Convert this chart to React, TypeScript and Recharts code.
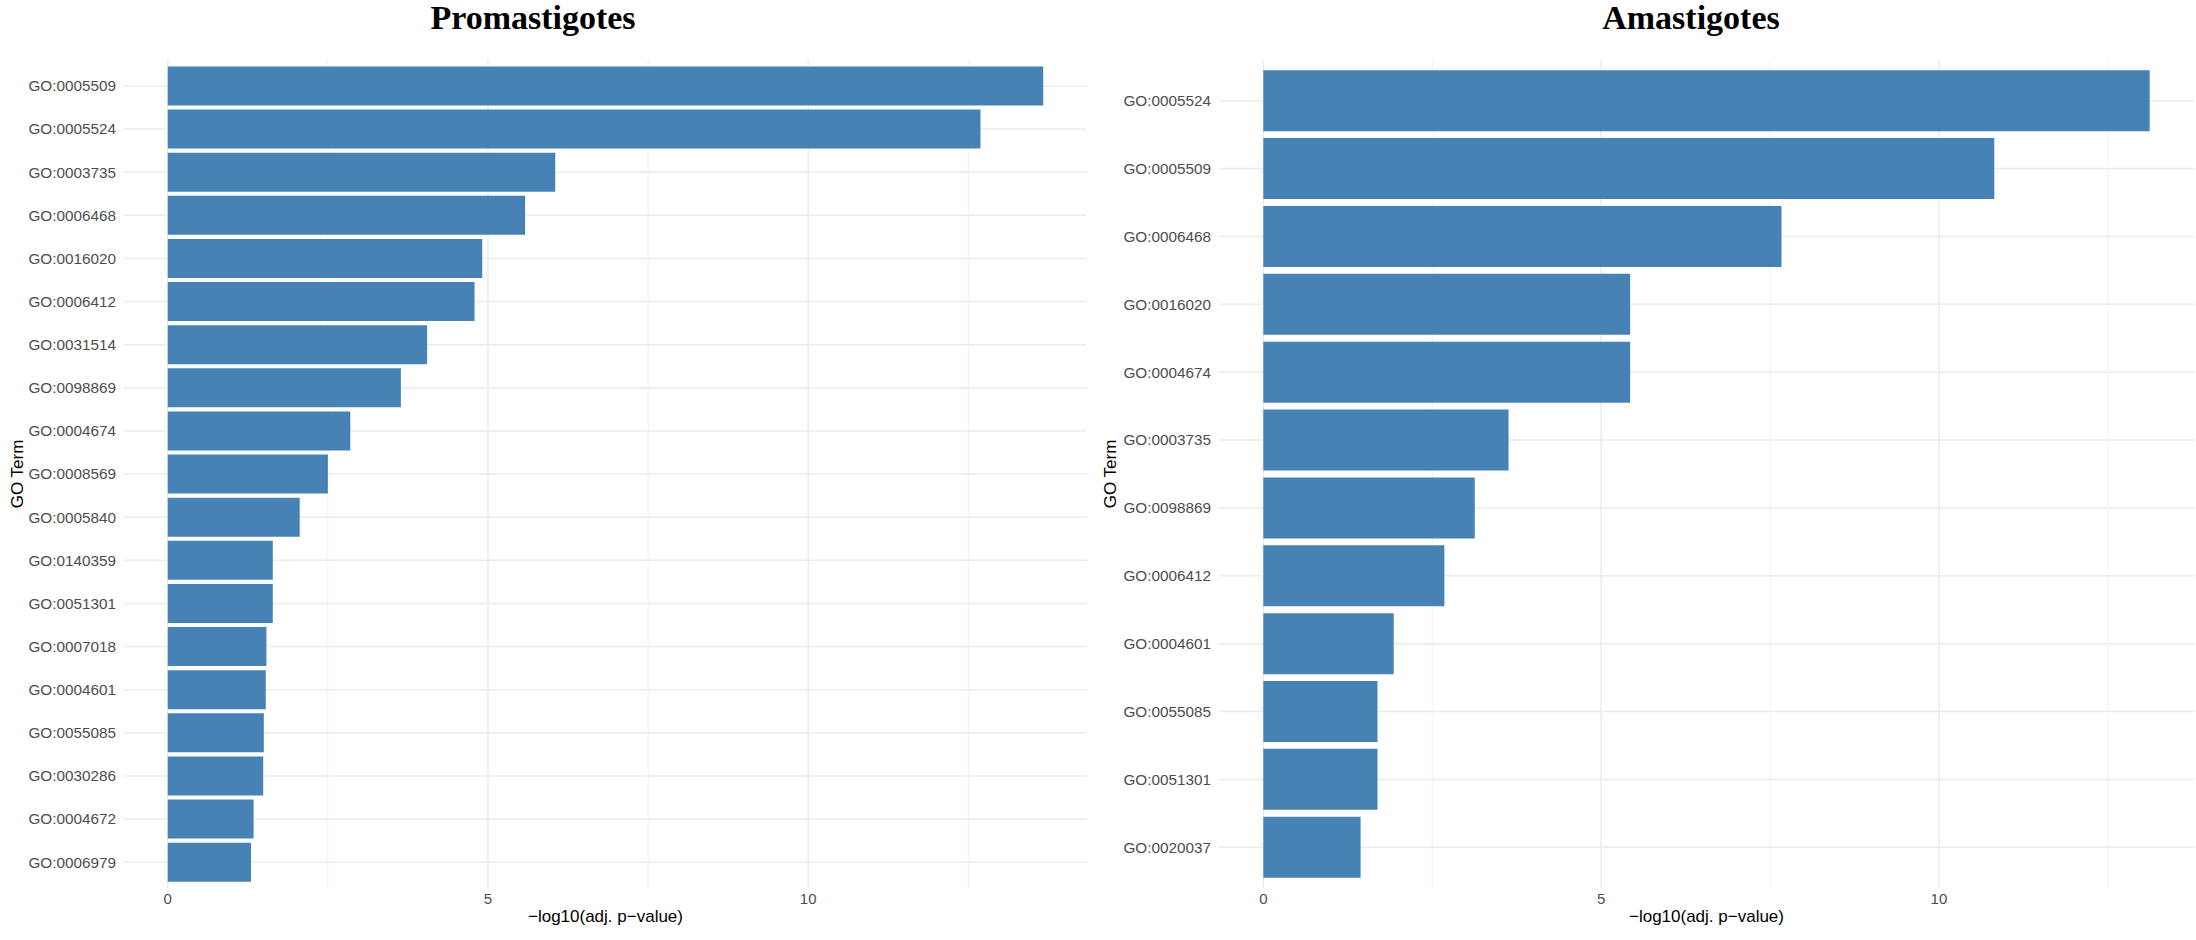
import React from "react";
import { BarChart, Bar, XAxis, YAxis, CartesianGrid, Label } from "recharts";

// Promastigotes, top to bottom
const promTerms = [
  "GO:0005509",
  "GO:0005524",
  "GO:0003735",
  "GO:0006468",
  "GO:0016020",
  "GO:0006412",
  "GO:0031514",
  "GO:0098869",
  "GO:0004674",
  "GO:0008569",
  "GO:0005840",
  "GO:0140359",
  "GO:0051301",
  "GO:0007018",
  "GO:0004601",
  "GO:0055085",
  "GO:0030286",
  "GO:0004672",
  "GO:0006979",
];
const promValues = [
  13.67, 12.69, 6.05, 5.58, 4.91, 4.79, 4.05, 3.64, 2.85, 2.5, 2.06, 1.64, 1.64,
  1.54, 1.53, 1.5, 1.49, 1.34, 1.3,
];

// Amastigotes, top to bottom
const amaTerms = [
  "GO:0005524",
  "GO:0005509",
  "GO:0006468",
  "GO:0016020",
  "GO:0004674",
  "GO:0003735",
  "GO:0098869",
  "GO:0006412",
  "GO:0004601",
  "GO:0055085",
  "GO:0051301",
  "GO:0020037",
];
const amaValues = [
  13.12, 10.82, 7.67, 5.43, 5.43, 3.63, 3.13, 2.68, 1.93, 1.69, 1.69, 1.44,
];

const xTicks = [0, 5, 10];
const minorBreaks = [2.5, 7.5, 12.5];

const BAR = "#4682B4";
const GRID = "#ebebeb";
const TEXT = "#4d4d4d";
const PLOT_TOP = 60;
const PLOT_BOTTOM = 888;
const HEIGHT = 940;
const XAXIS_H = 22;

// grid x positions for given values, on the panel's linear x range
const xLines = (values: number[], domain: number[]) => (props: any) => {
  const off = props?.offset;
  if (!off) return [];
  const [d0, d1] = domain;
  return values.map((v) => off.left + ((v - d0) / (d1 - d0)) * off.width);
};

// grid y positions at band centres
const yLines = (n: number, padFrac: number) => (props: any) => {
  const off = props?.offset;
  if (!off) return [];
  const pad = (off.height / (n + 2 * padFrac)) * padFrac;
  const band = (off.height - 2 * pad) / n;
  return Array.from({ length: n }, (_, i) => off.top + pad + band * (i + 0.5));
};

type PanelProps = {
  terms: string[];
  values: number[];
  width: number;
  axisWidth: number;
  rightMargin: number;
  termTitleX: number;
};

function Panel({ terms, values, width, axisWidth, rightMargin, termTitleX }: PanelProps) {
  const data = terms.map((term, i) => ({ term, value: values[i] }));
  const max = Math.max(...values);
  const pad = max * 0.05;
  const domain = [-pad, max + pad];
  const plotH = PLOT_BOTTOM - PLOT_TOP;
  const unit = plotH / (terms.length + 0.2);
  const catPad = unit * 0.1;

  return (
    <BarChart
      width={width}
      height={HEIGHT}
      data={data}
      layout="vertical"
      barCategoryGap="5%"
      margin={{ top: PLOT_TOP, right: rightMargin, bottom: HEIGHT - PLOT_BOTTOM - XAXIS_H, left: 0 }}
    >
      <CartesianGrid
        stroke={GRID}
        strokeWidth={0.8}
        horizontal={false}
        verticalCoordinatesGenerator={xLines(minorBreaks, domain)}
      />
      <CartesianGrid
        stroke={GRID}
        strokeWidth={1.5}
        horizontalCoordinatesGenerator={yLines(terms.length, 0.1)}
        verticalCoordinatesGenerator={xLines(xTicks, domain)}
      />
      <XAxis
        type="number"
        domain={domain}
        allowDataOverflow
        ticks={xTicks}
        tickLine={false}
        axisLine={false}
        tickSize={0}
        tickMargin={5}
        height={XAXIS_H}
        tick={{ fill: TEXT, fontSize: 15 }}
      >
        <Label
          value="−log10(adj. p−value)"
          position="bottom"
          offset={0}
          fill="#000"
          fontSize={17}
        />
      </XAxis>
      <YAxis
        type="category"
        dataKey="term"
        width={axisWidth}
        interval={0}
        tickLine={false}
        axisLine={false}
        padding={{ top: catPad, bottom: catPad }}
        tick={{ fill: TEXT, fontSize: 15.3 }}
      >
        <Label
          content={(props: any) => {
            const vb = props.viewBox || {};
            const cy = (vb.y ?? PLOT_TOP) + (vb.height ?? plotH) / 2;
            return (
              <text
                x={termTitleX}
                y={cy}
                transform={`rotate(-90, ${termTitleX}, ${cy})`}
                textAnchor="middle"
                dominantBaseline="central"
                fill="#000"
                fontSize={17}
              >
                GO Term
              </text>
            );
          }}
        />
      </YAxis>
      <Bar dataKey="value" fill={BAR} isAnimationActive={false} />
    </BarChart>
  );
}

const titleStyle: React.CSSProperties = {
  position: "absolute",
  top: 1,
  width: 400,
  textAlign: "center",
  fontFamily: "'Liberation Serif', 'Times New Roman', serif",
  fontWeight: "bold",
  fontSize: 34,
  lineHeight: "34px",
  color: "#000",
};

export default function App() {
  return (
    <div
      style={{
        position: "absolute",
        left: 0,
        top: 0,
        width: 2196,
        height: HEIGHT,
        background: "#fff",
        fontFamily: "'Liberation Sans', Arial, sans-serif",
      }}
    >
      <div style={{ ...titleStyle, left: 533 - 200 }}>Promastigotes</div>
      <div style={{ ...titleStyle, left: 1691 - 200 }}>Amastigotes</div>
      <div style={{ position: "absolute", left: 0, top: 0 }}>
        <Panel
          terms={promTerms}
          values={promValues}
          width={1100}
          axisWidth={124}
          rightMargin={13}
          termTitleX={17}
        />
      </div>
      <div style={{ position: "absolute", left: 1100, top: 0 }}>
        <Panel
          terms={amaTerms}
          values={amaValues}
          width={1096}
          axisWidth={119}
          rightMargin={2}
          termTitleX={10}
        />
      </div>
    </div>
  );
}
